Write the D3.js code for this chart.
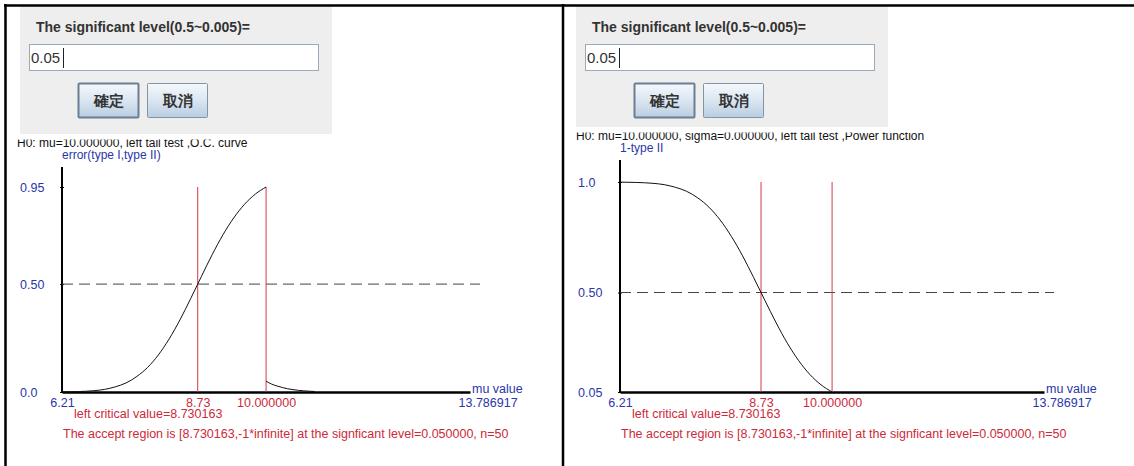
<!DOCTYPE html>
<html>
<head>
<meta charset="utf-8">
<script src="https://cdn.jsdelivr.net/npm/d3@7"></script>
<style>
  body { margin: 0; background: #fff; }
  svg text { font-family: "Liberation Sans", Arial, sans-serif; }
</style>
</head>
<body>
<svg id="chart" width="1134" height="466"></svg>
<script>
// values
var muMin = 6.21, muMax = 13.786917;
var criticalValue = 8.730163, mu0 = 10.0;

// O.C. curve (left): type II error for mu <= 10
var ocMu    = [6.21, 6.5, 6.8, 7.0, 7.2, 7.4, 7.6, 7.8, 8.0, 8.2, 8.4, 8.6, 8.73, 8.8, 9.0, 9.2, 9.4, 9.6, 9.8, 10.0];
var ocError = [0.0005, 0.002, 0.006, 0.012, 0.024, 0.042, 0.072, 0.114, 0.172, 0.246, 0.334, 0.433, 0.5, 0.536, 0.637, 0.729, 0.807, 0.870, 0.917, 0.95];
// type I error tail for mu >= 10
var tailMu    = [10.0, 10.1, 10.2, 10.3, 10.4, 10.5, 10.6, 10.7, 10.8, 10.9];
var tailError = [0.05, 0.037, 0.028, 0.021, 0.015, 0.011, 0.0077, 0.0054, 0.0037, 0.0025];

// power function (right): 1 - type II
var powMu    = [6.21, 6.5, 6.8, 7.0, 7.2, 7.4, 7.6, 7.8, 8.0, 8.2, 8.4, 8.6, 8.73, 8.8, 9.0, 9.2, 9.4, 9.6, 9.8, 10.0];
var powValue = [0.9995, 0.998, 0.994, 0.988, 0.976, 0.958, 0.928, 0.886, 0.828, 0.754, 0.666, 0.567, 0.5, 0.464, 0.363, 0.271, 0.193, 0.130, 0.083, 0.05];

var xTickValues = [muMin, criticalValue, mu0, muMax];
var xTickLabels = ["6.21", "8.73", "10.000000", "13.786917"];
var ocTickValues = [0.95, 0.5, 0];
var ocTickLabels = ["0.95", "0.50", "0.0"];
var powTickValues = [1.0, 0.5, 0.05];
var powTickLabels = ["1.0", "0.50", "0.05"];

var blue = "#2b36aa", red = "#cc2a3a", lineRed = "#d23a48";
var fs = 12.5;

var svg = d3.select("#chart");

// button gradient
var defs = svg.append("defs");
var grad = defs.append("linearGradient").attr("id", "btnGrad")
  .attr("x1", 0).attr("y1", 0).attr("x2", 0).attr("y2", 1);
grad.append("stop").attr("offset", "0%").attr("stop-color", "#f4f8fc");
grad.append("stop").attr("offset", "45%").attr("stop-color", "#dde8f3");
grad.append("stop").attr("offset", "100%").attr("stop-color", "#b9cde2");

/**
 * draws one panel: plot, then the dialog over its top
 */
function drawPanel(cfg) {
  var g = svg.append("g");
  var x = d3.scaleLinear().domain([muMin, muMax]).range(cfg.xRange);
  var y = d3.scaleLinear().domain(cfg.yDomain).range(cfg.yRange);

  // header text, clipped at the top like the original
  var clipId = "clip" + cfg.id;
  defs.append("clipPath").attr("id", clipId)
    .append("rect").attr("x", 0).attr("y", cfg.headerY - 7.5).attr("width", 1134).attr("height", 40);
  g.append("text")
    .attr("clip-path", "url(#" + clipId + ")")
    .attr("x", cfg.headerX).attr("y", cfg.headerY)
    .attr("font-size", 12).attr("fill", "#111")
    .text(cfg.header);

  g.append("text")
    .attr("x", cfg.xRange[0]).attr("y", cfg.headerY + 12)
    .attr("font-size", 12).attr("fill", blue)
    .text(cfg.yTitle);

  // y axis
  var yAxis = d3.axisLeft(y).tickValues(cfg.yTicks)
    .tickFormat(function (d, i) { return cfg.yLabels[i]; })
    .tickSize(2);
  var ya = g.append("g").attr("transform", "translate(" + cfg.xRange[0] + ",0)").call(yAxis);
  ya.select(".domain").remove();
  ya.selectAll(".tick line").attr("stroke", "#000").attr("x2", 2).attr("x1", -2);
  ya.selectAll(".tick text")
    .attr("x", 20 - cfg.xRange[0] + cfg.panelX).attr("text-anchor", "start")
    .attr("dy", "0.35em").attr("fill", blue).attr("font-size", fs)
    .attr("font-family", "Liberation Sans, Arial, sans-serif");
  g.append("line")
    .attr("x1", cfg.xRange[0]).attr("x2", cfg.xRange[0])
    .attr("y1", cfg.yRange[0]).attr("y2", cfg.yTop)
    .attr("stroke", "#000").attr("stroke-width", 2);

  // x axis
  var xAxis = d3.axisBottom(x).tickValues(xTickValues)
    .tickFormat(function (d, i) { return xTickLabels[i]; })
    .tickSize(0).tickPadding(6);
  var xa = g.append("g").attr("transform", "translate(0," + cfg.yRange[0] + ")").call(xAxis);
  xa.select(".domain").attr("stroke", "#000").attr("stroke-width", 2.5);
  xa.selectAll(".tick text")
    .attr("font-size", fs).attr("font-family", "Liberation Sans, Arial, sans-serif")
    .attr("fill", function (d, i) { return (i == 1 || i == 2) ? red : blue; })
    .attr("text-anchor", function (d, i) { return i == 3 ? "start" : "middle"; })
    .attr("dx", function (d, i) { return i == 3 ? -12 : 0; });
  g.append("text")
    .attr("x", cfg.xRange[1] + 2).attr("y", cfg.yRange[0] + 1)
    .attr("font-size", fs).attr("fill", blue)
    .text("mu value");

  // dashed 0.5 line
  g.append("line")
    .attr("x1", cfg.xRange[0]).attr("x2", cfg.xRange[1] + 10)
    .attr("y1", y(0.5)).attr("y2", y(0.5))
    .attr("stroke", "#444").attr("stroke-dasharray", "11,6");

  // critical value and mu0 lines
  [criticalValue, mu0].forEach(function (v) {
    g.append("line")
      .attr("x1", x(v)).attr("x2", x(v))
      .attr("y1", y(cfg.yDomain[1])).attr("y2", cfg.yRange[0])
      .attr("stroke", lineRed).attr("stroke-width", 1);
  });

  // curves
  var line = d3.line().x(function (d) { return x(d[0]); }).y(function (d) { return y(d[1]); })
    .curve(d3.curveMonotoneX);
  cfg.series.forEach(function (s) {
    g.append("path")
      .datum(d3.zip(s[0], s[1]))
      .attr("d", line)
      .attr("fill", "none").attr("stroke", "#111").attr("stroke-width", 1);
  });

  // bottom texts
  g.append("text")
    .attr("x", cfg.xRange[0] + 12).attr("y", 418)
    .attr("font-size", fs).attr("fill", red)
    .text("left critical value=8.730163");
  g.append("text")
    .attr("x", cfg.xRange[0] + 1).attr("y", 438)
    .attr("font-size", fs).attr("fill", red)
    .text("The accept region is [8.730163,-1*infinite] at the signficant level=0.050000, n=50");

  // dialog
  var d = svg.append("g").attr("transform", "translate(" + cfg.dialogX + ",6)");
  d.append("rect").attr("x", 0).attr("y", 0).attr("width", 312).attr("height", cfg.dialogH)
    .attr("fill", "#eeeeee");
  d.append("text").attr("x", 16).attr("y", 26)
    .attr("font-size", 14).attr("font-weight", "bold").attr("fill", "#333")
    .text("The significant level(0.5~0.005)=");
  d.append("rect").attr("x", 9.5).attr("y", 38.5).attr("width", 289).attr("height", 26)
    .attr("fill", "#fff").attr("stroke", "#9aa9b8");
  d.append("text").attr("x", 11).attr("y", 57)
    .attr("font-size", 15).attr("fill", "#333").text("0.05");
  d.append("line").attr("x1", 43.5).attr("x2", 43.5).attr("y1", 42).attr("y2", 62)
    .attr("stroke", "#222");
  [["確定", 58, true], ["取消", 127, false]].forEach(function (b) {
    d.append("rect").attr("x", b[1] + 0.5).attr("y", 77.5).attr("width", 60).attr("height", 34)
      .attr("rx", 1)
      .attr("fill", "url(#btnGrad)")
      .attr("stroke", b[2] ? "#6a7f94" : "#8195a8").attr("stroke-width", b[2] ? 2 : 1);
    d.append("text").attr("x", b[1] + 30.5).attr("y", 100)
      .attr("text-anchor", "middle").attr("font-size", 15).attr("font-weight", "bold")
      .attr("font-family", "Noto Sans CJK TC, Noto Sans CJK SC, sans-serif")
      .attr("fill", "#333").text(b[0]);
  });
}

drawPanel({
  id: "L", panelX: 0, dialogX: 20, dialogH: 128,
  xRange: [62, 470], yDomain: [0, 0.95], yRange: [392, 187], yTop: 167,
  yTicks: ocTickValues, yLabels: ocTickLabels,
  headerX: 17, headerY: 147,
  header: "H0: mu=10.000000, left tail test ,O.C. curve",
  yTitle: "error(type I,type II)",
  series: [[ocMu, ocError], [tailMu, tailError]]
});

drawPanel({
  id: "R", panelX: 558, dialogX: 576, dialogH: 121,
  xRange: [620, 1044], yDomain: [0.05, 1.0], yRange: [392, 182], yTop: 160,
  yTicks: powTickValues, yLabels: powTickLabels,
  headerX: 576, headerY: 140,
  header: "H0: mu=10.000000, sigma=0.000000, left tail test ,Power function",
  yTitle: "1-type II",
  series: [[powMu, powValue]]
});

// window frame lines
svg.append("line").attr("x1", 4).attr("x2", 1134).attr("y1", 5.5).attr("y2", 5.5)
  .attr("stroke", "#000").attr("stroke-width", 2.5);
svg.append("line").attr("x1", 5.5).attr("x2", 5.5).attr("y1", 4).attr("y2", 466)
  .attr("stroke", "#000").attr("stroke-width", 2.5);
svg.append("line").attr("x1", 563).attr("x2", 563).attr("y1", 4).attr("y2", 466)
  .attr("stroke", "#000").attr("stroke-width", 2.5);
</script>
</body>
</html>
